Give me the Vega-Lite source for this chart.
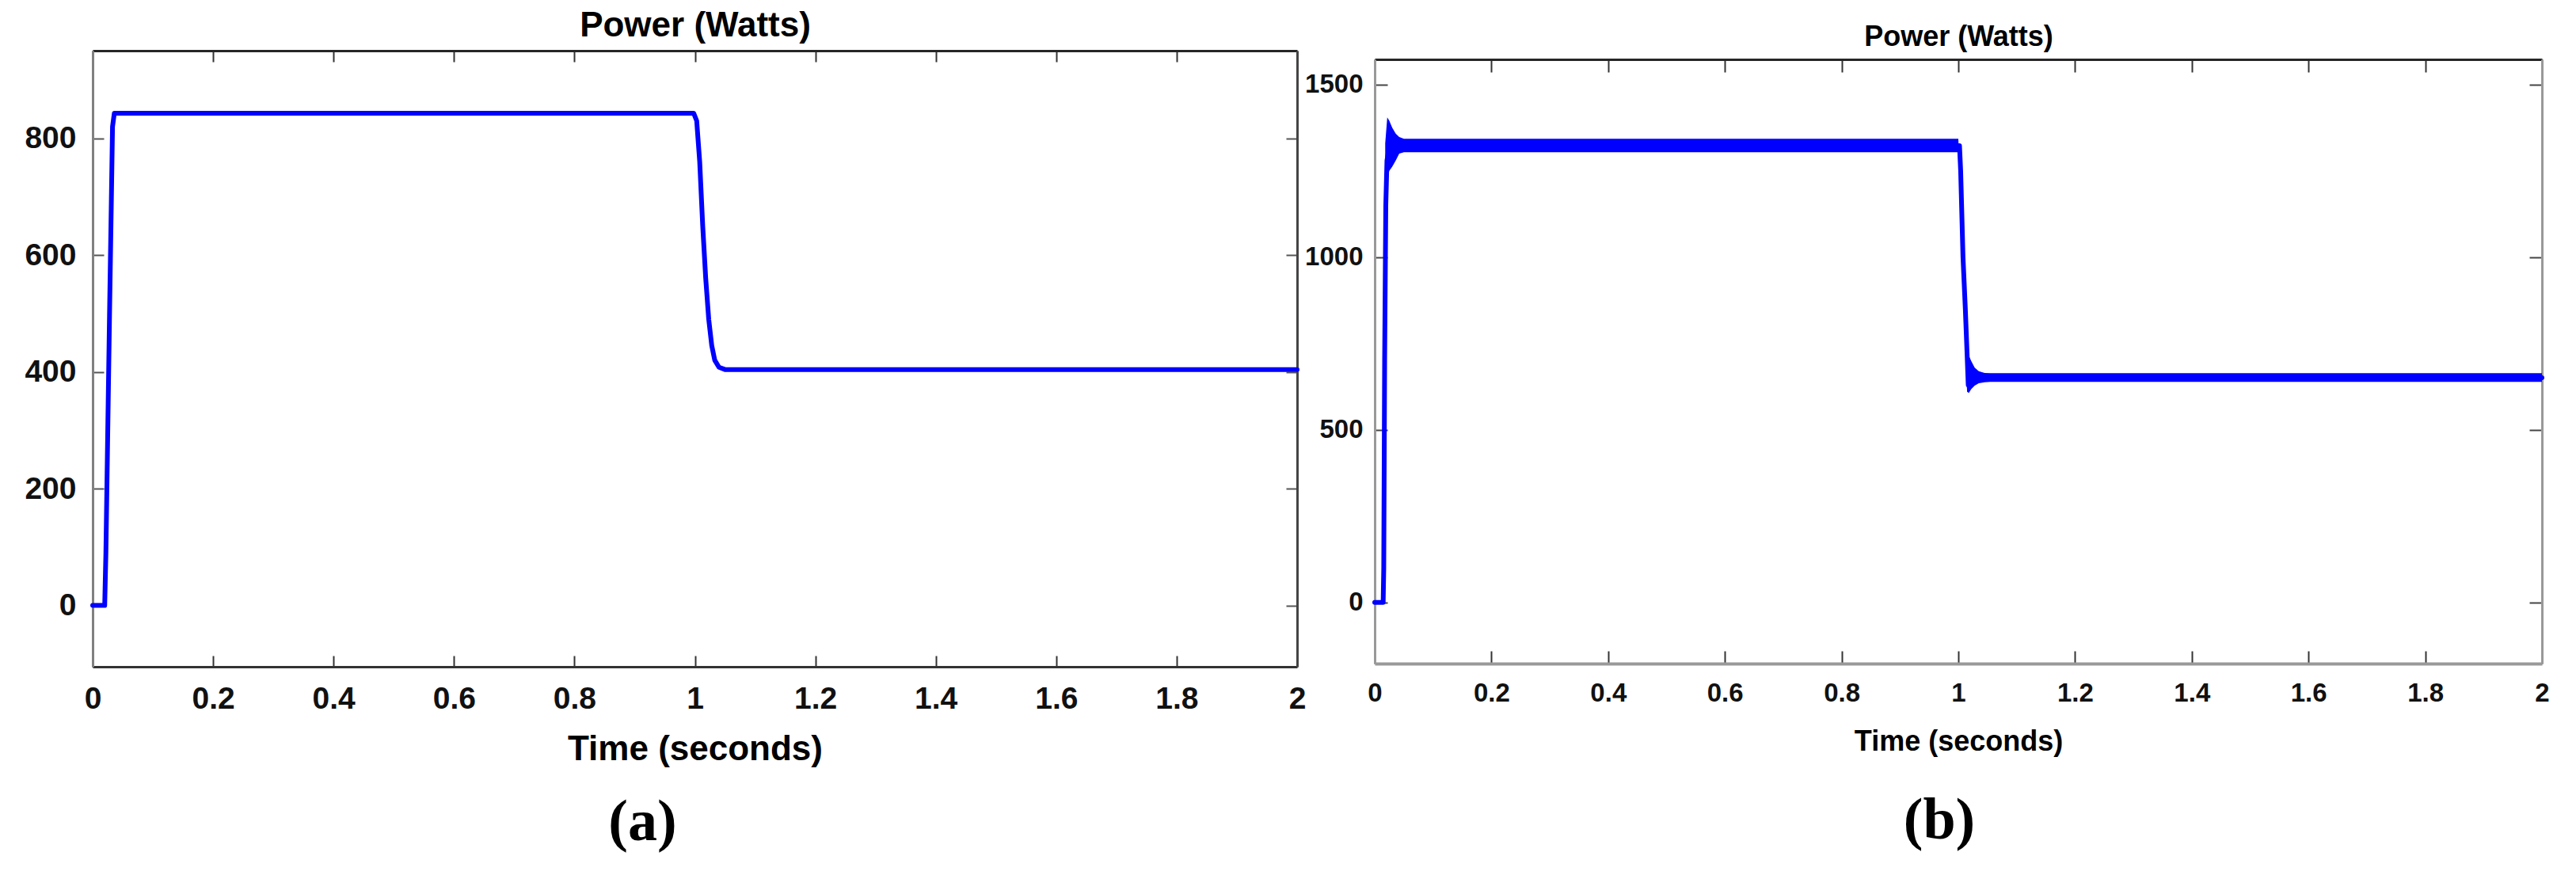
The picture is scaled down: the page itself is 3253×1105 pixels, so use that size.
{
  "$schema": "https://vega.github.io/schema/vega-lite/v6.json",
  "background": "white",
  "padding": {"left": 17, "top": 10, "right": 5, "bottom": 5},
  "spacing": 98,
  "bounds": "flush",
  "datasets": {
    "a": [
      {"t": 0, "p": 0}, {"t": 0.02, "p": 0}, {"t": 0.022, "p": 90}, {"t": 0.028, "p": 496},
      {"t": 0.033, "p": 820}, {"t": 0.036, "p": 843}, {"t": 0.5, "p": 843}, {"t": 0.998, "p": 843},
      {"t": 1.003, "p": 830}, {"t": 1.008, "p": 760}, {"t": 1.013, "p": 650}, {"t": 1.018, "p": 560},
      {"t": 1.023, "p": 490}, {"t": 1.028, "p": 445}, {"t": 1.033, "p": 420}, {"t": 1.04, "p": 408},
      {"t": 1.05, "p": 404}, {"t": 2, "p": 404}
    ],
    "bline": [
      {"t": 0, "p": 0}, {"t": 0.0145, "p": 0}, {"t": 0.0155, "p": 100}, {"t": 0.017, "p": 700},
      {"t": 0.019, "p": 1150}, {"t": 0.021, "p": 1280}, {"t": 0.025, "p": 1320}, {"t": 0.05, "p": 1323},
      {"t": 1.002, "p": 1323}, {"t": 1.004, "p": 1250}, {"t": 1.008, "p": 1000}, {"t": 1.012, "p": 850},
      {"t": 1.015, "p": 720}, {"t": 1.017, "p": 630}, {"t": 1.02, "p": 655}, {"t": 1.03, "p": 652},
      {"t": 1.06, "p": 651}, {"t": 2, "p": 651}
    ],
    "bband": [
      {"t": 0.018, "lo": 1150, "hi": 1330}, {"t": 0.0215, "lo": 1230, "hi": 1405},
      {"t": 0.025, "lo": 1250, "hi": 1395}, {"t": 0.03, "lo": 1262, "hi": 1375},
      {"t": 0.036, "lo": 1280, "hi": 1358}, {"t": 0.042, "lo": 1300, "hi": 1348},
      {"t": 0.05, "lo": 1304, "hi": 1343}, {"t": 1.0, "lo": 1304, "hi": 1343},
      {"t": 1.015, "lo": 610, "hi": 720}, {"t": 1.018, "lo": 607, "hi": 715},
      {"t": 1.022, "lo": 618, "hi": 700}, {"t": 1.028, "lo": 628, "hi": 680},
      {"t": 1.035, "lo": 635, "hi": 670}, {"t": 1.045, "lo": 638, "hi": 665},
      {"t": 1.055, "lo": 639, "hi": 664}, {"t": 2, "lo": 639, "hi": 664}
    ]
  },
  "hconcat": [
    {
      "width": 1521,
      "height": 778,
      "title": {"text": "(a)", "orient": "bottom", "anchor": "middle", "dx": -66, "offset": 93, "font": "Liberation Serif", "fontSize": 74, "fontWeight": "bold", "color": "#000000", "baseline": "alphabetic"},
      "data": {"name": "a"},
      "layer": [
        {
          "mark": {"type": "line", "color": "#0000ff", "strokeWidth": 6, "strokeJoin": "round", "strokeCap": "round"},
          "encoding": {
            "x": {"field": "t", "type": "quantitative", "scale": {"domain": [0, 2], "nice": false, "zero": false},
              "axis": {"orient": "bottom", "values": [0, 0.2, 0.4, 0.6, 0.8, 1, 1.2, 1.4, 1.6, 1.8, 2], "format": ".1~f",
                "title": "Time (seconds)", "titleFont": "Liberation Sans", "titleFontSize": 44, "titleFontWeight": "bold", "titleColor": "#000000", "titlePadding": 22,
                "labelFont": "Liberation Sans", "labelFontSize": 39, "labelFontWeight": "bold", "labelColor": "#111111", "labelPadding": 35, "labelFlush": false, "labelOverlap": false,
                "tickSize": -14, "tickColor": "#333333", "tickWidth": 2, "domainColor": "#333333", "domainWidth": 3, "grid": false}},
            "y": {"field": "p", "type": "quantitative", "scale": {"domain": [-105, 950], "nice": false, "zero": false},
              "axis": {"orient": "left", "values": [0, 200, 400, 600, 800], "format": "d", "title": null,
                "labelFont": "Liberation Sans", "labelFontSize": 39, "labelFontWeight": "bold", "labelColor": "#111111", "labelPadding": 35, "labelFlush": false, "labelOverlap": false,
                "tickSize": -14, "tickColor": "#555555", "tickWidth": 2, "domainColor": "#808080", "domainWidth": 3, "grid": false, "minExtent": 100}}
          }
        },
        {
          "mark": {"type": "line", "opacity": 0},
          "encoding": {
            "x": {"field": "t", "type": "quantitative", "scale": {"domain": [0, 2], "nice": false, "zero": false},
              "axis": {"orient": "top", "values": [0, 0.2, 0.4, 0.6, 0.8, 1, 1.2, 1.4, 1.6, 1.8, 2], "labels": false,
                "title": "Power (Watts)", "titleFont": "Liberation Sans", "titleFontSize": 44, "titleFontWeight": "bold", "titleColor": "#000000", "titlePadding": 18, "titleBaseline": "alphabetic",
                "tickSize": -14, "tickColor": "#333333", "tickWidth": 2, "domainColor": "#262626", "domainWidth": 3, "grid": false}},
            "y": {"field": "p", "type": "quantitative", "scale": {"domain": [-105, 950], "nice": false, "zero": false},
              "axis": {"orient": "right", "values": [0, 200, 400, 600, 800], "labels": false, "title": null,
                "tickSize": -14, "tickColor": "#555555", "tickWidth": 2, "domainColor": "#444444", "domainWidth": 3, "grid": false}}
          }
        }
      ],
      "resolve": {"axis": {"x": "independent", "y": "independent"}}
    },
    {
      "spacing": 0,
      "bounds": "flush",
      "vconcat": [
        {
          "width": 1474,
          "height": 11,
          "data": {"values": []},
          "mark": {"type": "point", "opacity": 0},
          "encoding": {}
        },
        {
          "width": 1474,
          "height": 763,
          "title": {"text": "(b)", "orient": "bottom", "anchor": "middle", "dx": -24, "offset": 105, "font": "Liberation Serif", "fontSize": 74, "fontWeight": "bold", "color": "#000000", "baseline": "alphabetic"},
          "layer": [
            {
              "data": {"name": "bband"},
              "mark": {"type": "area", "color": "#0000ff", "opacity": 1},
              "encoding": {
                "x": {"field": "t", "type": "quantitative", "scale": {"domain": [0, 2], "nice": false, "zero": false}, "axis": null},
                "y": {"field": "hi", "type": "quantitative", "scale": {"domain": [-177, 1573], "nice": false, "zero": false}, "axis": null},
                "y2": {"field": "lo"}
              }
            },
            {
              "data": {"name": "bline"},
              "mark": {"type": "line", "color": "#0000ff", "strokeWidth": 6, "strokeJoin": "round", "strokeCap": "round"},
              "encoding": {
                "x": {"field": "t", "type": "quantitative", "scale": {"domain": [0, 2], "nice": false, "zero": false},
                  "axis": {"orient": "bottom", "values": [0, 0.2, 0.4, 0.6, 0.8, 1, 1.2, 1.4, 1.6, 1.8, 2], "format": ".1~f",
                    "title": "Time (seconds)", "titleFont": "Liberation Sans", "titleFontSize": 36, "titleFontWeight": "bold", "titleColor": "#000000", "titlePadding": 27,
                    "labelFont": "Liberation Sans", "labelFontSize": 33, "labelFontWeight": "bold", "labelColor": "#111111", "labelPadding": 37, "labelFlush": false, "labelOverlap": false,
                    "tickSize": -16, "tickColor": "#333333", "tickWidth": 2, "domainColor": "#999999", "domainWidth": 4, "grid": false}},
                "y": {"field": "p", "type": "quantitative", "scale": {"domain": [-177, 1573], "nice": false, "zero": false},
                  "axis": {"orient": "left", "values": [0, 500, 1000, 1500], "format": "d", "title": null,
                    "labelFont": "Liberation Sans", "labelFontSize": 33, "labelFontWeight": "bold", "labelColor": "#111111", "labelPadding": 31, "labelFlush": false, "labelOverlap": false,
                    "tickSize": -16, "tickColor": "#444444", "tickWidth": 2, "domainColor": "#999999", "domainWidth": 3, "grid": false}}
              }
            },
            {
              "data": {"name": "bline"},
              "mark": {"type": "line", "opacity": 0},
              "encoding": {
                "x": {"field": "t", "type": "quantitative", "scale": {"domain": [0, 2], "nice": false, "zero": false},
                  "axis": {"orient": "top", "values": [0, 0.2, 0.4, 0.6, 0.8, 1, 1.2, 1.4, 1.6, 1.8, 2], "labels": false,
                    "title": "Power (Watts)", "titleFont": "Liberation Sans", "titleFontSize": 36, "titleFontWeight": "bold", "titleColor": "#000000", "titlePadding": 17, "titleBaseline": "alphabetic",
                    "tickSize": -16, "tickColor": "#333333", "tickWidth": 2, "domainColor": "#262626", "domainWidth": 3, "grid": false}},
                "y": {"field": "p", "type": "quantitative", "scale": {"domain": [-177, 1573], "nice": false, "zero": false},
                  "axis": {"orient": "right", "values": [0, 500, 1000, 1500], "labels": false, "title": null,
                    "tickSize": -16, "tickColor": "#444444", "tickWidth": 2, "domainColor": "#999999", "domainWidth": 3, "grid": false}}
              }
            }
          ],
          "resolve": {"axis": {"x": "independent", "y": "independent"}}
        }
      ]
    }
  ],
  "config": {
    "view": {"stroke": null},
    "axis": {"grid": false}
  }
}
